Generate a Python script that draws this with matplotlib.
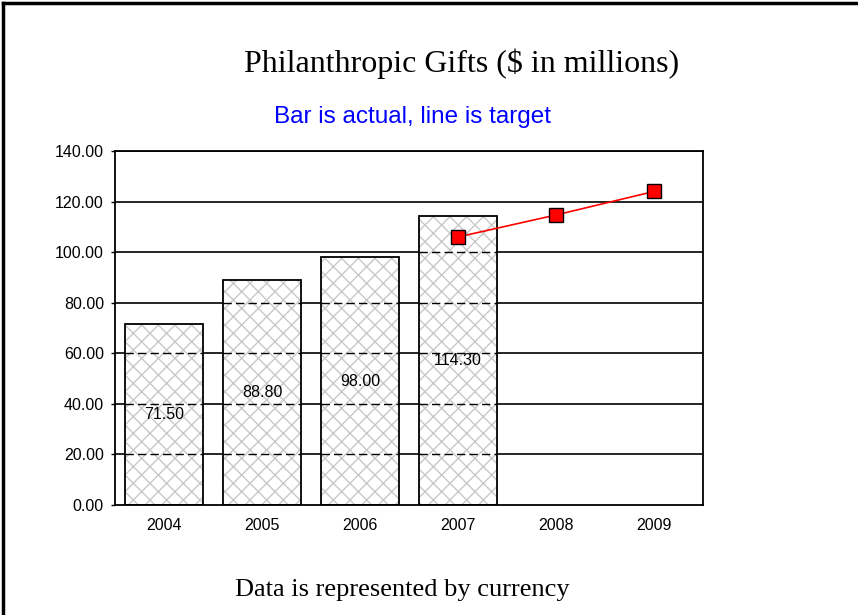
import matplotlib.pyplot as plt
import matplotlib.lines as mlines
import numpy as np

# データ
years = ['2004', '2005', '2006', '2007', '2008', '2009']
actual = [71.5, 88.8, 98.0, 114.3]          # 棒: 実績
target_years = ['2007', '2008', '2009']
target = [106.0, 114.7, 124.0]              # 線: 目標
yticks = [0, 20, 40, 60, 80, 100, 120, 140]

fig = plt.figure(figsize=(8.58, 6.15), dpi=100)
ax = fig.add_axes([115 / 858, 1 - 505 / 615, (703 - 115) / 858, (505 - 151) / 615])

x = np.arange(len(years))
bw = 0.8

# グリッド（実線）
for y in yticks[1:]:
    ax.axhline(y, color='black', lw=1.2, zorder=0)

# 棒（ハッチ）
xa = x[:len(actual)]
ax.bar(xa, actual, width=bw, color='white', edgecolor='#c8c8c8', hatch='xx',
       linewidth=0, zorder=2)
ax.bar(xa, actual, width=bw, color='none', edgecolor='black', linewidth=1.3, zorder=4)

# 棒の中のグリッドは破線
for xi, h in zip(xa, actual):
    for y in yticks[1:]:
        if y < h:
            ax.plot([xi - bw / 2, xi + bw / 2], [y, y], color='black', lw=1.0,
                    ls=(0, (6, 3)), zorder=3)
    ax.text(xi, h / 2, f'{h:.2f}', ha='center', va='center', fontsize=11.5,
            family='Liberation Sans', zorder=5)

# 目標ライン
xt = [years.index(y) for y in target_years]
ax.plot(xt, target, color='red', lw=1.2, marker='s', markersize=9.5,
        markerfacecolor='red', markeredgecolor='black', markeredgewidth=1.0, zorder=6)

ax.set_xlim(-0.5, len(years) - 0.5)
ax.set_ylim(0, 140)
ax.set_yticks(yticks)
ax.set_yticklabels([f'{v:.2f}' for v in yticks], fontsize=11.5, family='Liberation Sans')
ax.set_xticks(x)
ax.set_xticklabels(years, fontsize=11.5, family='Liberation Sans')
ax.tick_params(axis='y', length=3, width=1, pad=5)
ax.tick_params(axis='x', length=0, pad=9)
for s in ax.spines.values():
    s.set_linewidth(1.3)

# タイトル類
fig.text(462 / 858, 1 - 72 / 615, 'Philanthropic Gifts ($ in millions)', ha='center',
         va='baseline', fontsize=23, family='Liberation Serif')
fig.text(413 / 858, 1 - 123 / 615, 'Bar is actual, line is target', ha='center',
         va='baseline', fontsize=17.5, color='#0000ff', family='Liberation Sans')
fig.text(402 / 858, 1 - 596 / 615, 'Data is represented by currency', ha='center',
         va='baseline', fontsize=19, family='Liberation Serif')

# 外枠（左と上）
fig.add_artist(mlines.Line2D([3 / 858, 3 / 858], [0, 1 - 3 / 615], color='black', lw=2.5,
                             transform=fig.transFigure))
fig.add_artist(mlines.Line2D([3 / 858, 1], [1 - 3 / 615, 1 - 3 / 615], color='black', lw=2.5,
                             transform=fig.transFigure))

fig.savefig('out.png', dpi=100)
